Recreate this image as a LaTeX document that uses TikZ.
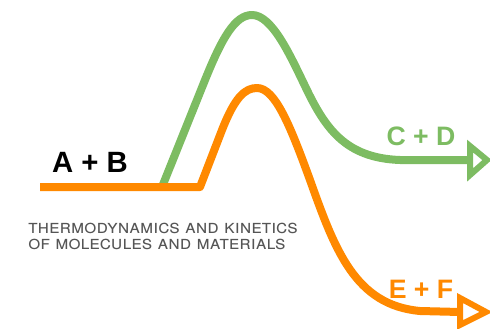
\documentclass[tikz,border=0pt]{standalone}
\usepackage{fontspec}
\setmainfont{Liberation Sans}
\newfontfamily\heros{TeX Gyre Heros}
\definecolor{orng}{RGB}{255,137,0}
\definecolor{grn}{RGB}{125,188,98}
\definecolor{txtgray}{RGB}{85,85,85}
\begin{document}
\begin{tikzpicture}[x=0.75pt,y=-0.75pt,
  curve/.style={line width=6pt,line cap=butt,line join=round},
  tipbox/.style={line width=4.5pt,line join=miter},
  species/.style={font=\fontsize{20}{22}\selectfont\bfseries,inner sep=0pt},
  subline/.style={anchor=base west,inner sep=0pt,text=txtgray,font=\heros\fontsize{14.5}{16}\selectfont}]
\useasboundingbox (0,0) rectangle (490,329);
% green path (upper barrier)
\draw[curve,grn] (162,187) -- (205,80) .. controls (222,38) and (235,15) .. (252,15)
  .. controls (272,15) and (290,55) .. (305,86)
  .. controls (325,128) and (345,158) .. (400,160) -- (470,160);
% orange path (lower barrier)
\draw[curve,orng] (40,187) -- (200,187) -- (222,130) .. controls (235,97) and (245,88) .. (257,88)
  .. controls (275,88) and (290,125) .. (310,180)
  .. controls (335,250) and (355,305) .. (420,311) -- (460,312);
% open triangle arrowheads
\coordinate (gt1) at (470,146);
\coordinate (gt2) at (470,175);
\coordinate (gt3) at (487,160);
\draw[tipbox,grn] (gt1) -- (gt3) -- (gt2) -- cycle;
\coordinate (ot1) at (460,298);
\coordinate (ot2) at (460,325);
\coordinate (ot3) at (486,312);
\draw[tipbox,orng] (ot1) -- (ot3) -- (ot2) -- cycle;
% labels
\node[species,font=\fontsize{22}{24}\selectfont\bfseries,text=black] (ab) at (90,162) {A + B};
\node[species,text=grn] (cd) at (421,136) {C + D};
\node[species,text=orng] (ef) at (421,289) {E + F};
\node[subline] (sub1) at (28,233) {\textsc{thermodynamics and kinetics}};
\node[subline] (sub2) at (28,249) {\textsc{of molecules and materials}};
\end{tikzpicture}
\end{document}
